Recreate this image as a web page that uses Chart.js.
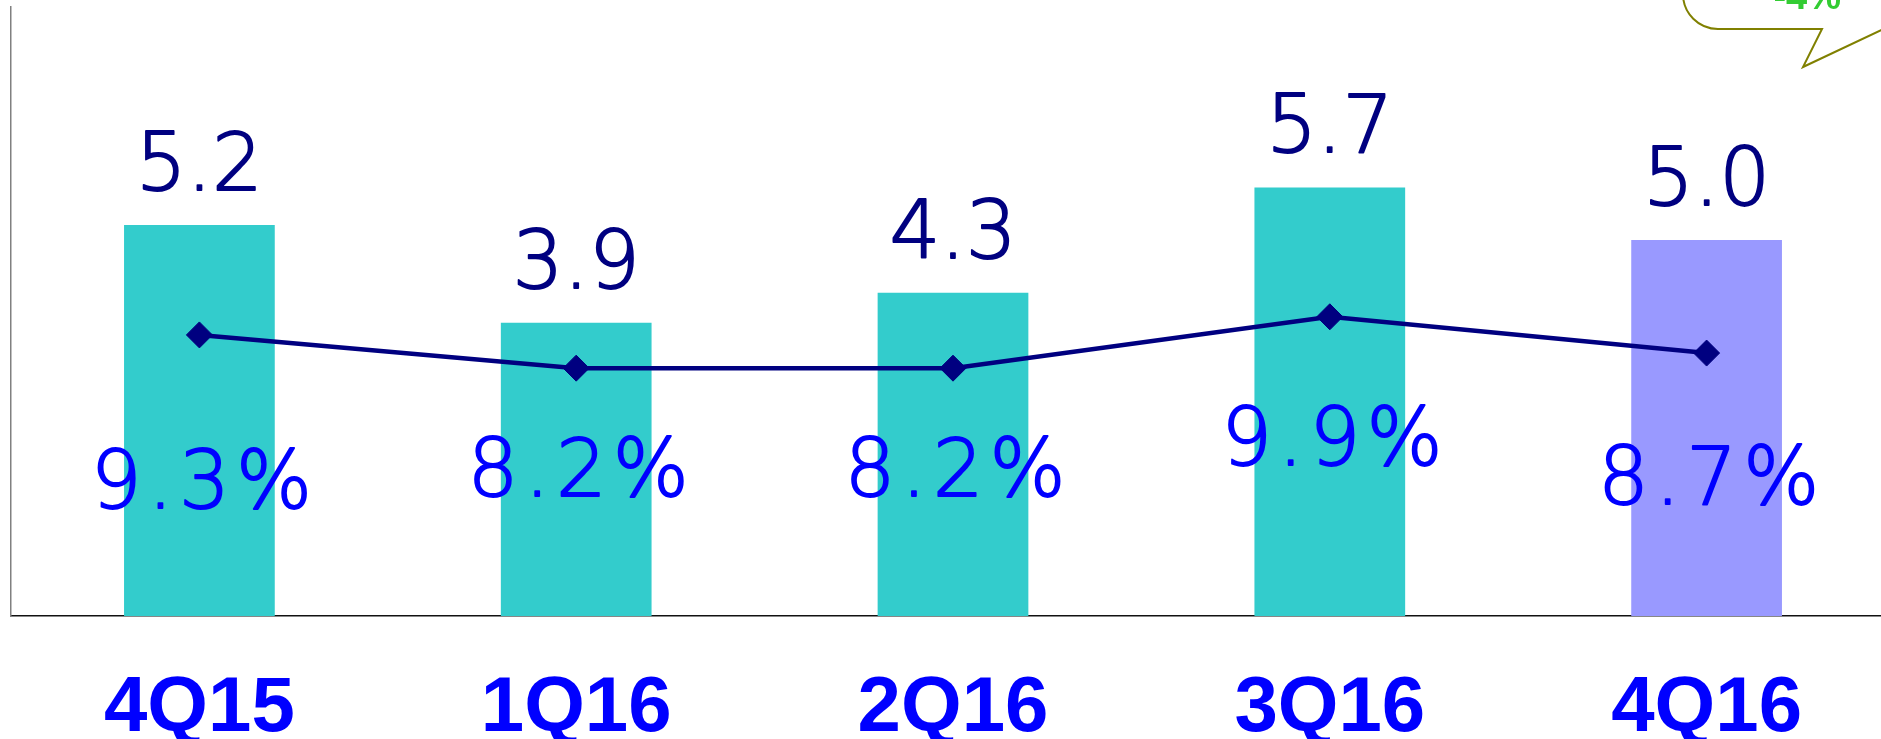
<!DOCTYPE html>
<html>
<head>
<meta charset="utf-8">
<script src="https://cdn.jsdelivr.net/npm/chart.js@4/dist/chart.umd.min.js"></script>
<style>
  html, body { margin: 0; padding: 0; background: #ffffff; overflow: hidden; width: 1881px; height: 739px; }
  #c { display: block; }
</style>
</head>
<body>
<canvas id="c" width="1896" height="739"></canvas>
<script>
// ---- data ----
const categories = ['4Q15', '1Q16', '2Q16', '3Q16', '4Q16'];
const revenue = [5.2, 3.9, 4.3, 5.7, 5.0];
const margin = [9.3, 8.2, 8.2, 9.9, 8.7];
const revenueLabels = ['5.2', '3.9', '4.3', '5.7', '5.0'];
const marginLabels = ['9.3%', '8.2%', '8.2%', '9.9%', '8.7%'];
const calloutText = '-4%';

// ---- styles ----
const barColors = ['#33CCCC', '#33CCCC', '#33CCCC', '#33CCCC', '#9999FF'];
const marginLabelLift = [108, 120, 120, 151, 112]; // px above the axis line

function drawLabel(ctx, text, x, y, color) {
  ctx.fillStyle = color;
  ctx.strokeStyle = color;
  ctx.lineWidth = 1.8;
  ctx.lineJoin = 'round';
  ctx.fillText(text, x, y);
  ctx.strokeText(text, x, y);
}

const labelPlugin = {
  id: 'labels',
  afterDatasetsDraw(chart) {
    const ctx = chart.ctx;
    const barMeta = chart.getDatasetMeta(1);
    const area = chart.chartArea;
    ctx.save();
    ctx.textAlign = 'center';
    ctx.textBaseline = 'alphabetic';
    ctx.font = '200 80px "DejaVu Sans"';
    barMeta.data.forEach((bar, i) => {
      ctx.letterSpacing = '0px';
      drawLabel(ctx, revenueLabels[i], bar.x, bar.y - 35, '#000080');
      ctx.letterSpacing = '6px';
      drawLabel(ctx, marginLabels[i], bar.x + 5, area.bottom - marginLabelLift[i], '#0000FF');
    });
    ctx.restore();
  },
  afterDraw(chart) {
    const ctx = chart.ctx;
    ctx.save();
    // callout bubble (partly outside the picture)
    ctx.strokeStyle = '#808000';
    ctx.lineWidth = 2;
    ctx.beginPath();
    ctx.moveTo(1683, -60);
    ctx.lineTo(1683, -6);
    ctx.arc(1718, -6, 35, Math.PI, Math.PI / 2, true);
    ctx.lineTo(1822, 29);
    ctx.lineTo(1803, 67);
    ctx.lineTo(1960, -7);
    ctx.stroke();
    ctx.fillStyle = '#33CC33';
    ctx.font = 'bold 38px "Liberation Sans"';
    ctx.textAlign = 'right';
    ctx.textBaseline = 'alphabetic';
    ctx.fillText(calloutText, 1841, 9);
    ctx.restore();
  }
};

new Chart(document.getElementById('c'), {
  data: {
    labels: categories,
    datasets: [
      {
        type: 'line',
        data: margin,
        yAxisID: 'y2',
        borderColor: '#000080',
        borderWidth: 4.5,
        pointStyle: 'rectRot',
        pointRadius: 13,
        pointBackgroundColor: '#000080',
        pointBorderColor: '#000080',
        pointBorderWidth: 1,
        tension: 0,
        order: 0
      },
      {
        type: 'bar',
        data: revenue,
        yAxisID: 'y',
        backgroundColor: barColors,
        barPercentage: 0.4,
        categoryPercentage: 1,
        order: 1
      }
    ]
  },
  options: {
    responsive: false,
    animation: false,
    layout: { autoPadding: false, padding: { left: 11, top: 7, right: 1, bottom: -63 } },
    plugins: { legend: { display: false }, tooltip: { enabled: false } },
    scales: {
      x: {
        grid: { display: false, drawTicks: false },
        border: { display: true, color: '#111111', width: 1.5 },
        ticks: {
          color: '#0000FF',
          padding: 54,
          font: { family: '"Liberation Sans", Arial, sans-serif', size: 78, weight: 'bold', lineHeight: 1 }
        }
      },
      y: {
        position: 'left',
        min: 0,
        max: 8.1,
        grid: { display: false, drawTicks: false },
        border: { display: true, color: '#808080', width: 1.5 },
        ticks: { display: false }
      },
      y2: {
        position: 'right',
        display: false,
        min: 0,
        max: 20.15
      }
    }
  },
  plugins: [labelPlugin]
});
</script>
</body>
</html>
